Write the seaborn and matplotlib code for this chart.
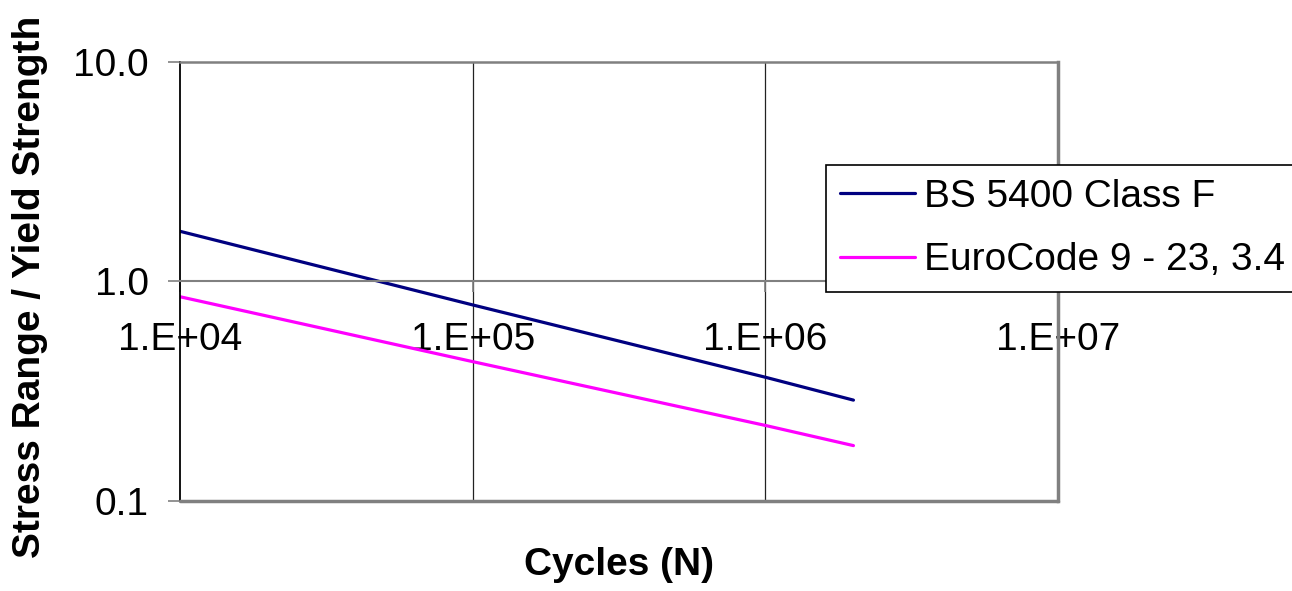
import pandas as pd
import numpy as np
import matplotlib.pyplot as plt
import seaborn as sns
from matplotlib.lines import Line2D

# S-N curve values (log-log)
cycles = [1e4, 1e5, 1e6, 2e6]
bs5400 = [1.69, 0.78, 0.365, 0.287]
eurocode = [0.85, 0.43, 0.22, 0.178]
series_names = ["BS 5400 Class F", "EuroCode 9 - 23, 3.4"]
series_colors = ["#000080", "#FF00FF"]

x_ticks = [1e4, 1e5, 1e6, 1e7]
x_tick_labels = ["1.E+04", "1.E+05", "1.E+06", "1.E+07"]
y_ticks = [0.1, 1.0, 10.0]
y_tick_labels = ["0.1", "1.0", "10.0"]

df = pd.DataFrame({
    "Cycles": cycles * 2,
    "Ratio": bs5400 + eurocode,
    "Series": [series_names[0]] * len(cycles) + [series_names[1]] * len(cycles),
})

sns.set_style("white")
plt.rcParams["font.family"] = ["Liberation Sans", "DejaVu Sans"]
plt.rcParams["text.color"] = "black"
plt.rcParams["xtick.labelcolor"] = "black"
plt.rcParams["ytick.labelcolor"] = "black"

fig = plt.figure(figsize=(12.92, 5.91), dpi=100)
ax = fig.add_axes([0.1393, 0.1531, 0.6796, 0.742])

sns.lineplot(data=df, x="Cycles", y="Ratio", hue="Series",
             palette=dict(zip(series_names, series_colors)),
             linewidth=2.3, ax=ax, legend=False)

ax.set_xscale("log")
ax.set_yscale("log")
ax.set_xlim(1e4, 1e7)
ax.set_ylim(0.1, 10)

# vertical gridlines like Excel
for xv in x_ticks[1:-1]:
    ax.axvline(xv, color="#222222", lw=0.9, zorder=0)

ax.set_xticks(x_ticks)
ax.set_xticklabels(x_tick_labels)
ax.set_yticks(y_ticks)
ax.set_yticklabels(y_tick_labels)
ax.minorticks_off()

# x axis crosses at y = 1
ax.spines["bottom"].set_position(("data", 1))
ax.spines["bottom"].set_color("#808080")
ax.spines["bottom"].set_linewidth(1.5)
ax.spines["left"].set_color("black")
ax.spines["left"].set_linewidth(1.3)
ax.spines["top"].set_color("#808080")
ax.spines["top"].set_linewidth(1.8)
ax.spines["right"].set_color("#808080")
ax.spines["right"].set_linewidth(2.5)
ax.axhline(0.1, color="#808080", lw=2.5, clip_on=False, zorder=3)

ax.tick_params(axis="x", direction="out", length=8, width=1.2, color="#808080",
               pad=21, labelsize=28, bottom=True)
ax.tick_params(axis="y", direction="out", length=8.6, width=1.2, color="#808080",
               pad=14, labelsize=28, left=True)

ax.set_xlabel("")
ax.set_ylabel("")
fig.text(0.479, 0.044, "Cycles (N)", fontsize=28, fontweight="bold",
         ha="center", va="center")
fig.text(0.023, 0.515, "Stress Range / Yield Strength", fontsize=28,
         fontweight="bold", rotation=90, ha="center", va="center")

handles = [Line2D([], [], color=c, lw=2.3) for c in series_colors]
leg = fig.legend(handles, series_names, loc="upper left",
                 bbox_to_anchor=(0.6393, 0.7208), fontsize=28,
                 frameon=True, fancybox=False, framealpha=1,
                 edgecolor="black", handlelength=1.95, handletextpad=0.23,
                 labelspacing=0.71, borderpad=0.35, borderaxespad=0)
leg.get_frame().set_linewidth(1.2)

plt.savefig("out.png", dpi=100)
